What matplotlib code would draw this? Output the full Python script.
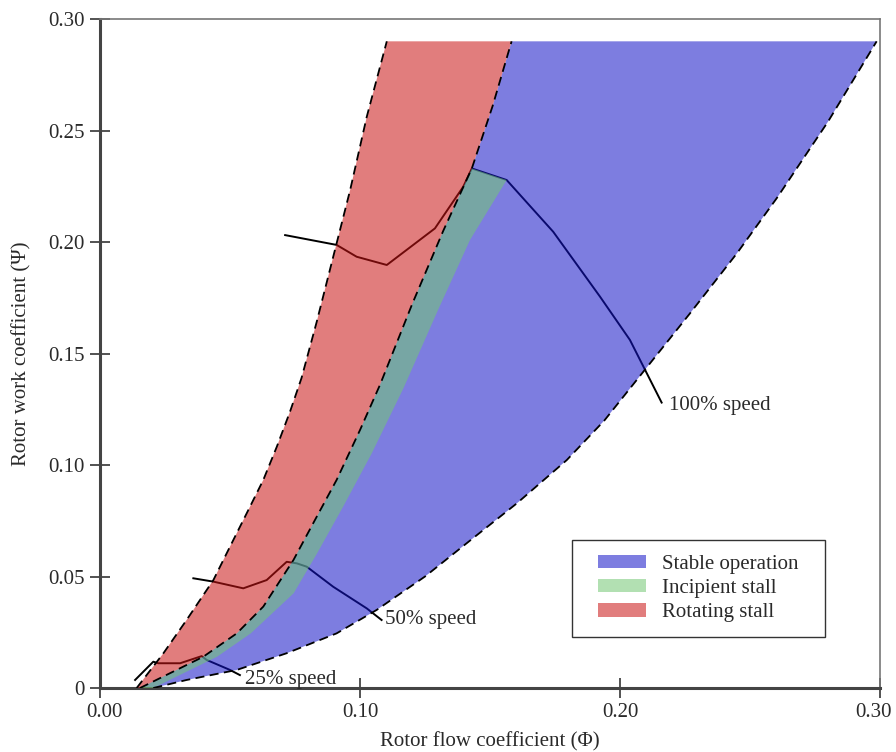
import numpy as np
from matplotlib import pyplot as plt
from matplotlib.patches import Patch, Rectangle
from matplotlib.transforms import ScaledTranslation

plt.rcParams['font.family'] = ['Liberation Serif', 'DejaVu Serif']

# stall boundaries (phi, psi)
left_phi = [0.0141, 0.0244, 0.0333, 0.0436, 0.0500, 0.0564, 0.0628, 0.0680, 0.0731, 0.0775,
            0.0833, 0.0910, 0.0962, 0.1026, 0.1103]
left_psi = [0.0, 0.0156, 0.0305, 0.0484, 0.0634, 0.0783, 0.0933, 0.1082, 0.1240, 0.1390,
            0.1640, 0.1994, 0.2233, 0.2562, 0.29]

stall_phi = [0.0154, 0.0397, 0.0526, 0.0628, 0.0744, 0.0820, 0.0910, 0.1000, 0.1077, 0.1200,
             0.1320, 0.1430, 0.1510, 0.1583]
stall_psi = [0.0, 0.0140, 0.0245, 0.0365, 0.0574, 0.0739, 0.0933, 0.1157, 0.1360, 0.1720,
             0.2050, 0.2330, 0.2610, 0.29]

incip_phi = [0.0205, 0.0450, 0.0580, 0.0745, 0.0835, 0.0935, 0.1045, 0.1167, 0.1300, 0.1423, 0.1564]
incip_psi = [0.0, 0.0140, 0.0245, 0.0425, 0.0604, 0.0813, 0.1052, 0.1344, 0.1695, 0.2009, 0.2278]

right_phi = [0.0205, 0.0333, 0.0526, 0.0718, 0.0910, 0.1064, 0.1250, 0.1410, 0.1603, 0.1795,
             0.1940, 0.2077, 0.2269, 0.2450, 0.2603, 0.2800, 0.2987]
right_psi = [0.0, 0.0036, 0.0081, 0.0156, 0.0245, 0.0350, 0.0500, 0.0649, 0.0828, 0.1022,
             0.1200, 0.1400, 0.1680, 0.1950, 0.2197, 0.2540, 0.29]

# constant speed lines
s25_phi = [0.0135, 0.0205, 0.0224, 0.0308, 0.0391, 0.0410, 0.0500, 0.0538]
s25_psi = [0.0036, 0.0118, 0.0111, 0.0111, 0.0143, 0.0126, 0.0081, 0.0058]

s50_phi = [0.0359, 0.0436, 0.0551, 0.0641, 0.0718, 0.0757, 0.0795, 0.0897, 0.1026, 0.1083]
s50_psi = [0.0492, 0.0477, 0.0447, 0.0484, 0.0566, 0.0559, 0.0544, 0.0454, 0.0357, 0.0305]

s100_phi = [0.0712, 0.0910, 0.0987, 0.1103, 0.1288, 0.1397, 0.1430, 0.1564, 0.1743, 0.1923, 0.2038, 0.2160]
s100_psi = [0.2031, 0.1987, 0.1934, 0.1897, 0.2061, 0.2248, 0.2330, 0.2278, 0.2046, 0.1755, 0.1561, 0.1280]

c_stable = '#1313c8'
c_incip = '#73c873'
c_rot = '#ca1313'
a = 0.55
txt = '#2a2a2a'
fs = 15

fig = plt.figure(figsize=(8.96, 7.52), dpi=100)
ax = fig.add_axes([0.1116, 0.0851, 0.8706, 0.8896])

# speed lines go underneath so the fills tint them
for p, q in [(s25_phi, s25_psi), (s50_phi, s50_psi), (s100_phi, s100_psi)]:
    ax.plot(p, q, color='black', lw=1.4, zorder=1)

# stable region: stall line to right boundary
ax.fill(stall_phi + right_phi[::-1], stall_psi + right_psi[::-1],
        color=c_stable, alpha=a, lw=0, zorder=2)

# incipient stall strip, capped by the 100% speed line
n = stall_psi.index(0.2330)
ax.fill(incip_phi + [stall_phi[n]] + stall_phi[:n][::-1],
        incip_psi + [stall_psi[n]] + stall_psi[:n][::-1],
        color=c_incip, alpha=a, lw=0, zorder=3)

# rotating stall region
ax.fill(left_phi + stall_phi[::-1], left_psi + stall_psi[::-1],
        color=c_rot, alpha=a, lw=0, zorder=4)

for p, q in [(left_phi, left_psi), (stall_phi, stall_psi), (right_phi, right_psi)]:
    ax.plot(p, q, color='black', lw=1.3, ls=(0, (5, 3)), zorder=5)

ax.text(0.219, 0.1265, '100% speed', fontsize=fs, va='center', color=txt)
ax.text(0.1096, 0.0305, '50% speed', fontsize=fs, va='center', color=txt)
ax.text(0.0558, 0.0036, '25% speed', fontsize=fs, va='center', color=txt)

# legend box drawn by hand (wider side margins than the legend frame gives)
ax.add_patch(Rectangle((0.605, 0.0762), 0.3245, 0.145, transform=ax.transAxes,
                       facecolor='white', edgecolor='#333333', lw=1.0, zorder=6))
handles = [Patch(facecolor=c_stable, alpha=a, label='Stable operation'),
           Patch(facecolor=c_incip, alpha=a, label='Incipient stall'),
           Patch(facecolor=c_rot, alpha=a, label='Rotating stall')]
leg = ax.legend(handles=handles, loc='center', bbox_to_anchor=(0.767, 0.1487),
                fontsize=fs, frameon=False, handlelength=2.3, handleheight=0.6,
                borderpad=0, labelspacing=0.26, handletextpad=0.8, borderaxespad=0)
leg.set_zorder(7)
for t in leg.get_texts():
    t.set_color(txt)

ax.set_xlim(0, 0.30)
ax.set_ylim(0, 0.30)
ax.set_xticks([0, 0.10, 0.20, 0.30])
ax.set_xticklabels(['0.00', '0.10', '0.20', '0.30'])
ax.set_yticks([0, 0.05, 0.10, 0.15, 0.20, 0.25, 0.30])
ax.set_yticklabels(['0', '0.05', '0.10', '0.15', '0.20', '0.25', '0.30'])
ax.tick_params(direction='inout', length=14, width=1.3, colors='#444444',
               labelcolor=txt, labelsize=fs, pad=4)

# keep the outer x labels inside the figure
xl = ax.get_xticklabels()
xl[0].set_transform(xl[0].get_transform() + ScaledTranslation(4 / 100, 0, fig.dpi_scale_trans))
xl[-1].set_transform(xl[-1].get_transform() + ScaledTranslation(-7 / 100, 0, fig.dpi_scale_trans))

for s in ['left', 'bottom']:
    ax.spines[s].set_linewidth(2.2)
    ax.spines[s].set_color('#444444')
for s in ['top', 'right']:
    ax.spines[s].set_linewidth(1.2)
    ax.spines[s].set_color('#777777')

ax.set_xlabel('Rotor flow coefficient (Φ)', fontsize=fs, color=txt, labelpad=7)
ax.set_ylabel('Rotor work coefficient (Ψ)', fontsize=fs, color=txt, labelpad=12)

plt.savefig('out.png')
